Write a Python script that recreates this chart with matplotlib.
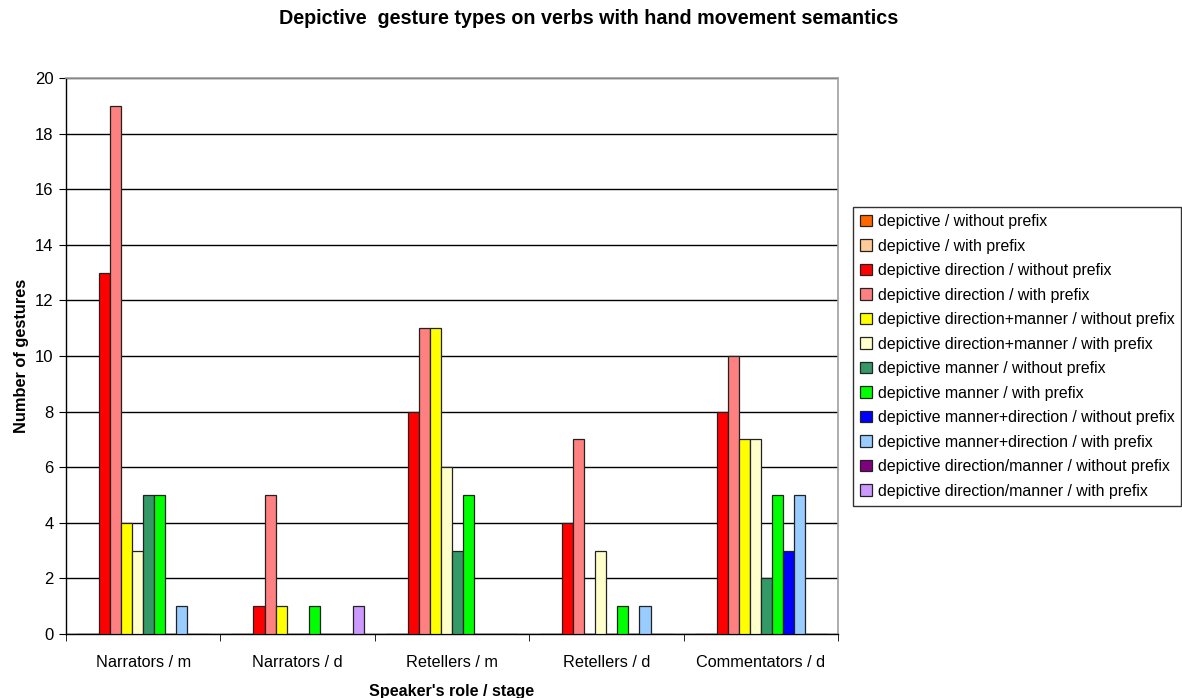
import numpy as np
import matplotlib
matplotlib.use("Agg")
import matplotlib.pyplot as plt

plt.rcParams['font.family'] = ['Liberation Sans', 'DejaVu Sans']

categories = ["Narrators / m", "Narrators / d", "Retellers / m", "Retellers / d", "Commentators / d"]

series_names = [
    "depictive / without prefix",
    "depictive / with prefix",
    "depictive direction / without prefix",
    "depictive direction / with prefix",
    "depictive direction+manner / without prefix",
    "depictive direction+manner / with prefix",
    "depictive manner / without prefix",
    "depictive manner / with prefix",
    "depictive manner+direction / without prefix",
    "depictive manner+direction / with prefix",
    "depictive direction/manner / without prefix",
    "depictive direction/manner / with prefix",
]

dep_without = [0, 0, 0, 0, 0]
dep_with = [0, 0, 0, 0, 0]
dir_without = [13, 1, 8, 4, 8]
dir_with = [19, 5, 11, 7, 10]
dirman_without = [4, 1, 11, 0, 7]
dirman_with = [3, 0, 6, 3, 7]
man_without = [5, 0, 3, 0, 2]
man_with = [5, 1, 5, 1, 5]
mandir_without = [0, 0, 0, 0, 3]
mandir_with = [1, 0, 0, 1, 5]
dslashm_without = [0, 0, 0, 0, 0]
dslashm_with = [0, 1, 0, 0, 0]

series_values = [dep_without, dep_with, dir_without, dir_with, dirman_without, dirman_with,
                 man_without, man_with, mandir_without, mandir_with, dslashm_without, dslashm_with]

colors = ["#FF6600", "#FFCC99", "#FF0000", "#FF8080", "#FFFF00", "#FFFFCC",
          "#339966", "#00FF00", "#0000FF", "#99CCFF", "#800080", "#CC99FF"]

fig = plt.figure(figsize=(11.82, 6.98), dpi=100)
ax = fig.add_axes([66 / 1182, 64 / 698, (838 - 66) / 1182, (634 - 78) / 698])

n = len(series_values)
bw = 1.0 / (n + 2)
x = np.arange(len(categories))
for i, (vals, c, name) in enumerate(zip(series_values, colors, series_names)):
    offs = -0.5 + bw * (i + 1) + bw / 2
    ax.bar(x + offs, vals, width=bw, color=c, edgecolor="#222222", linewidth=0.9,
           label=name, zorder=3)

ax.set_xlim(-0.5, len(categories) - 0.5)
ax.set_ylim(0, 20)
ax.set_yticks(np.arange(0, 21, 2))
ax.yaxis.grid(True, color="black", linewidth=1.0, zorder=0)
ax.set_axisbelow(True)

ax.set_xticks(x)
ax.set_xticklabels(categories, fontsize=11.7)
ax.tick_params(axis="x", length=0, pad=15)
ax.set_xticks(np.arange(-0.5, len(categories)), minor=True)
ax.tick_params(axis="x", which="minor", length=5, direction="out", color="black")
ax.tick_params(axis="y", length=5, direction="out", labelsize=12, pad=4)

for s in ["top", "right"]:
    ax.spines[s].set_color("#A0A0A0")
    ax.spines[s].set_linewidth(1.2)
for s in ["left", "bottom"]:
    ax.spines[s].set_color("black")
    ax.spines[s].set_linewidth(1.0)

ax.set_ylabel("Number of gestures", fontsize=11.8, fontweight="bold", labelpad=4)
ax.set_xlabel("Speaker's role / stage", fontsize=11.6, fontweight="bold", labelpad=10)

fig.text(589 / 1182, 1 - 18 / 698, "Depictive  gesture types on verbs with hand movement semantics",
         ha="center", va="center", fontsize=14.2, fontweight="bold")

leg = ax.legend(loc="upper left", bbox_to_anchor=(853 / 1182, 1 - 207 / 698),
                bbox_transform=fig.transFigure, fontsize=11.4, frameon=True,
                fancybox=False, edgecolor="black", handlelength=0.75, handleheight=0.75,
                handletextpad=0.35, labelspacing=0.6, borderpad=0.45, borderaxespad=0)
leg.get_frame().set_linewidth(1.0)

fig.savefig("out.png", dpi=100)
